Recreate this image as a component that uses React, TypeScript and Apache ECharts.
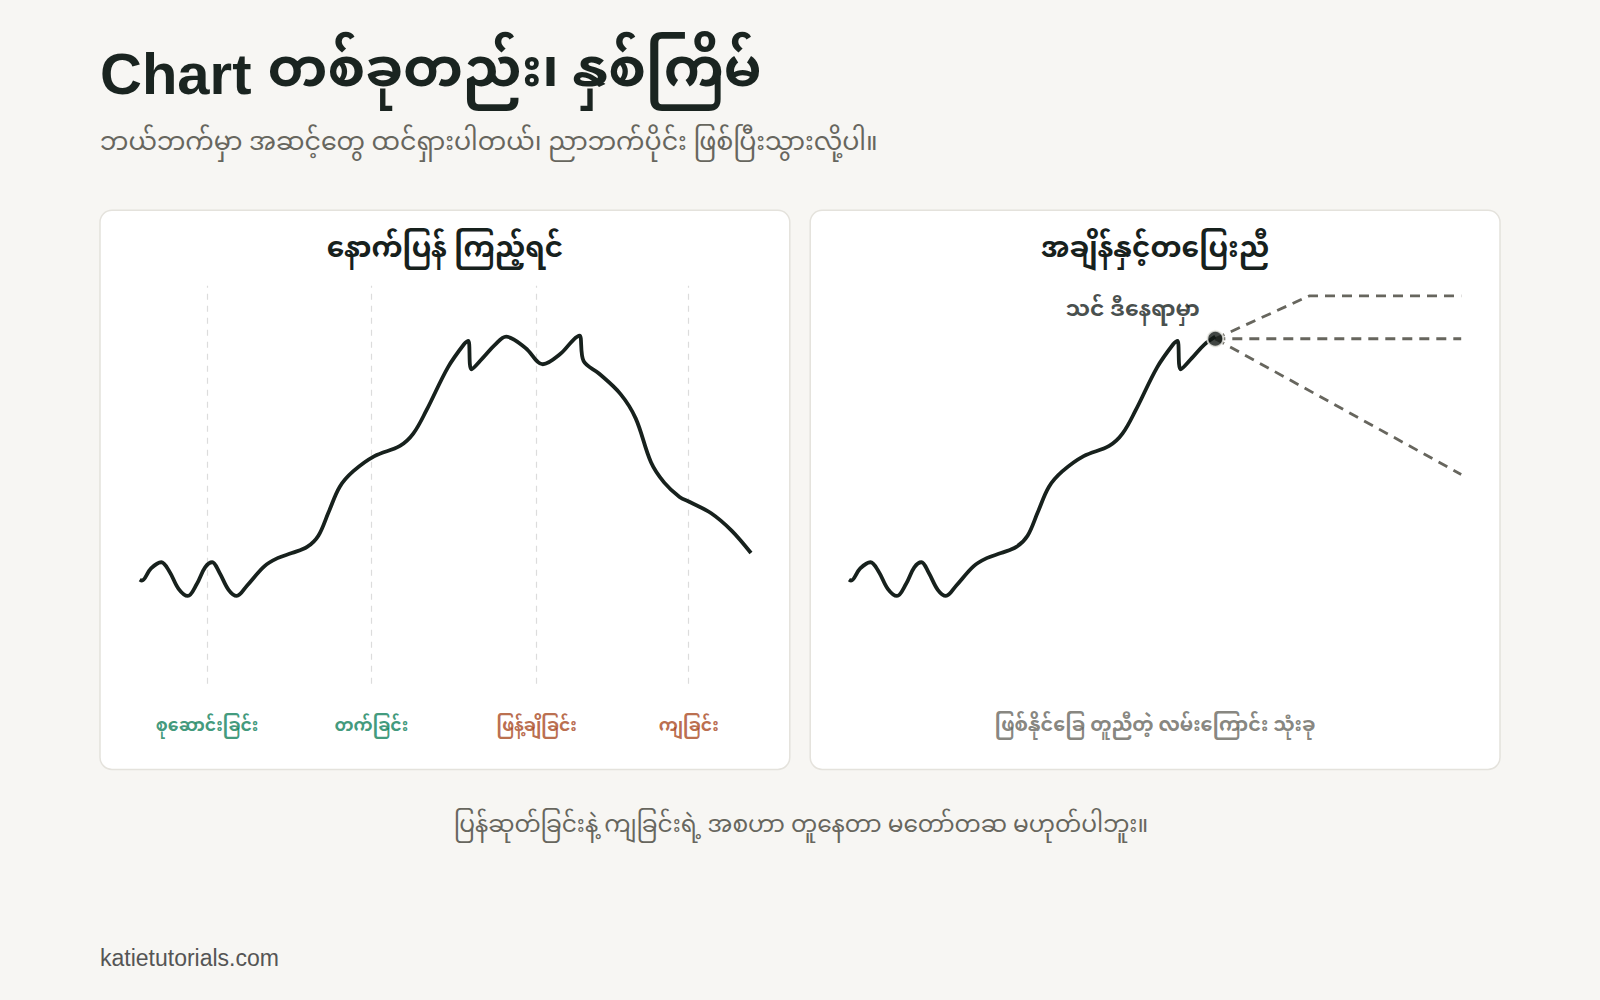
import React, { useEffect, useRef } from "react";
import * as echarts from "echarts";

// ---- data (x: time units, y: price units) ----
const priceX = [0, 2, 11, 21, 29, 38, 47, 56, 64, 71, 78, 87, 95, 105, 122, 135, 149, 164, 175, 185, 196, 209, 230, 255, 268, 281, 302, 318, 322, 325, 336, 348, 359, 378, 395, 412, 425, 431, 435, 450, 471, 486, 501, 514, 529, 539, 560, 580, 599];
const priceY = [112, 111, 123, 129, 120, 103, 96, 108, 124, 129, 119, 102, 96, 106, 125, 133, 138, 144, 155, 178, 203, 218, 233, 243, 255, 278, 320, 343, 346, 318, 329, 342, 350, 339, 323, 333, 347, 351, 326, 314, 294, 270, 227, 207, 193, 188, 177, 160, 138];
const nowX = 359;
const nowY = 348;

const phaseNames = ["စုဆောင်းခြင်း", "တက်ခြင်း", "ဖြန့်ချိခြင်း", "ကျခြင်း"];
const phaseX = [66, 227, 389, 538];

const scenarioUpX = [359, 451, 600];
const scenarioUpY = [348, 390, 390];
const scenarioFlatX = [359, 600];
const scenarioFlatY = [348, 348];
const scenarioDownX = [359, 600];
const scenarioDownY = [348, 215];

const titleLatin = "Chart";
const titleMyanmar = "တစ်ခုတည်း၊ နှစ်ကြိမ်";
const subtitleText = "ဘယ်ဘက်မှာ အဆင့်တွေ ထင်ရှားပါတယ်၊ ညာဘက်ပိုင်း ဖြစ်ပြီးသွားလို့ပါ။";
const leftTitle = "နောက်ပြန် ကြည့်ရင်";
const rightTitle = "အချိန်နှင့်တပြေးညီ";
const youAreHere = "သင် ဒီနေရာမှာ";
const scenarioCaption = "ဖြစ်နိုင်ခြေ တူညီတဲ့ လမ်းကြောင်း သုံးခု";
const footerText = "ပြန်ဆုတ်ခြင်းနဲ့ ကျခြင်းရဲ့ အစဟာ တူနေတာ မတော်တဆ မဟုတ်ပါဘူး။";
const sourceText = "katietutorials.com";

const FONT = "'Noto Sans Myanmar', 'Liberation Sans', Arial, sans-serif";
const LATIN = "'Liberation Sans', Arial, 'Noto Sans Myanmar', sans-serif";
const INK = "#17211d";
const GREY = "#67665e";
const GREEN = "#0f7f5a";
const RUST = "#a8481f";

const S = 1600 / 1568;
const s = (v: number) => Math.round(v * S * 10) / 10;

const zip = (xs: number[], ys: number[]) => xs.map((x, i) => [x, ys[i]]);

export default function App() {
  const ref = useRef<HTMLDivElement>(null);
  useEffect(() => {
    if (!ref.current) return;
    const chart = echarts.init(ref.current, undefined, { renderer: "svg" });
    const full = zip(priceX, priceY);
    const upToNow = full.filter((p) => p[0] <= nowX);

    const axisX = (gridIndex: number) => ({
      type: "value" as const, gridIndex, min: 0, max: 600, show: false,
    });
    const axisY = (gridIndex: number) => ({
      type: "value" as const, gridIndex, min: -50, max: 400, show: false,
    });

    const text = (x: number, y: number, t: string, font: string, fill: string, align: string) => ({
      type: "text", z: 10, x: s(x), y: s(y),
      style: { text: t, font, fill, verticalAlign: "middle", align },
    });

    const option: any = {
      animation: false,
      backgroundColor: "#f7f6f3",
      grid: [
        { left: s(137), top: s(280), width: s(600), height: s(450) },
        { left: s(832), top: s(280), width: s(600), height: s(450) },
      ],
      xAxis: [axisX(0), axisX(1)],
      yAxis: [axisY(0), axisY(1)],
      graphic: [
        {
          type: "rect", z: 0,
          shape: { x: s(98), y: s(206), width: s(676), height: s(548), r: 12 },
          style: { fill: "#ffffff", stroke: "#e4e2dc", lineWidth: 1.5 },
        },
        {
          type: "rect", z: 0,
          shape: { x: s(794), y: s(206), width: s(676), height: s(548), r: 12 },
          style: { fill: "#ffffff", stroke: "#e4e2dc", lineWidth: 1.5 },
        },
        {
          type: "text", z: 10, x: s(98), y: s(72),
          style: {
            text: `{a|${titleLatin} }{b|${titleMyanmar}}`,
            verticalAlign: "middle", align: "left",
            rich: {
              a: { fontSize: 58, fontWeight: "bold", fontFamily: LATIN, fill: "#1a2420", color: "#1a2420", lineHeight: 56 },
              b: { fontSize: 54, fontWeight: "bold", fontFamily: FONT, fill: "#1a2420", color: "#1a2420", lineHeight: 56 },
            },
          },
        },
        text(98, 142, subtitleText, `25.3px ${FONT}`, GREY, "left"),
        text(436, 245, leftTitle, `bold 28px ${FONT}`, INK, "center"),
        text(1132, 245, rightTitle, `bold 28px ${FONT}`, INK, "center"),
        text(785, 810, footerText, `23.3px ${FONT}`, GREY, "center"),
        text(98, 939, sourceText, `23px ${LATIN}`, "#555555", "left"),
      ],
      series: [
        {
          type: "line", xAxisIndex: 0, yAxisIndex: 0, data: full, smooth: 0.35,
          showSymbol: false, symbol: "none",
          lineStyle: { color: INK, width: 3.8 }, z: 5,
          markLine: {
            silent: true, symbol: ["none", "none"], label: { show: false },
            lineStyle: { color: "#dcdcdc", type: [6, 6], width: 1.2 },
            data: phaseX.map((x) => [{ coord: [x, 10] }, { coord: [x, 400] }]),
          },
        },
        {
          type: "scatter", xAxisIndex: 0, yAxisIndex: 0, symbolSize: 0, silent: true,
          data: phaseNames.map((n, i) => ({
            value: [phaseX[i], -32], name: n,
            label: { color: i < 2 ? GREEN : RUST },
          })),
          label: {
            show: true, position: "inside", formatter: (p: any) => p.name,
            fontSize: 17.2, fontWeight: "bold", fontFamily: FONT,
          },
        },
        {
          type: "line", xAxisIndex: 1, yAxisIndex: 1, data: upToNow, smooth: 0.35,
          showSymbol: false, symbol: "none",
          lineStyle: { color: INK, width: 3.8 }, z: 5,
        },
        ...[
          zip(scenarioUpX, scenarioUpY),
          zip(scenarioFlatX, scenarioFlatY),
          zip(scenarioDownX, scenarioDownY),
        ].map((d) => ({
          type: "line", xAxisIndex: 1, yAxisIndex: 1, data: d, symbol: "none",
          lineStyle: { color: GREY, width: 2.8, type: [10, 7] }, z: 4,
        })),
        {
          type: "scatter", xAxisIndex: 1, yAxisIndex: 1, symbolSize: 16, z: 6,
          data: [[nowX, nowY]],
          itemStyle: { color: "#101613", borderColor: "#f3f2ee", borderWidth: 2 },
        },
        {
          type: "scatter", xAxisIndex: 1, yAxisIndex: 1, symbolSize: 0, silent: true,
          data: [
            { value: [278, 375], name: youAreHere, label: { color: INK, fontSize: 22 } },
            { value: [300, -32], name: scenarioCaption, label: { color: GREY, fontSize: 19.2 } },
          ],
          label: {
            show: true, position: "inside", formatter: (p: any) => p.name,
            fontWeight: "bold", fontFamily: FONT,
          },
        },
      ],
    };
    chart.setOption(option);
    return () => chart.dispose();
  }, []);
  return <div ref={ref} style={{ position: "fixed", left: 0, top: 0, width: 1600, height: 1000 }} />;
}
